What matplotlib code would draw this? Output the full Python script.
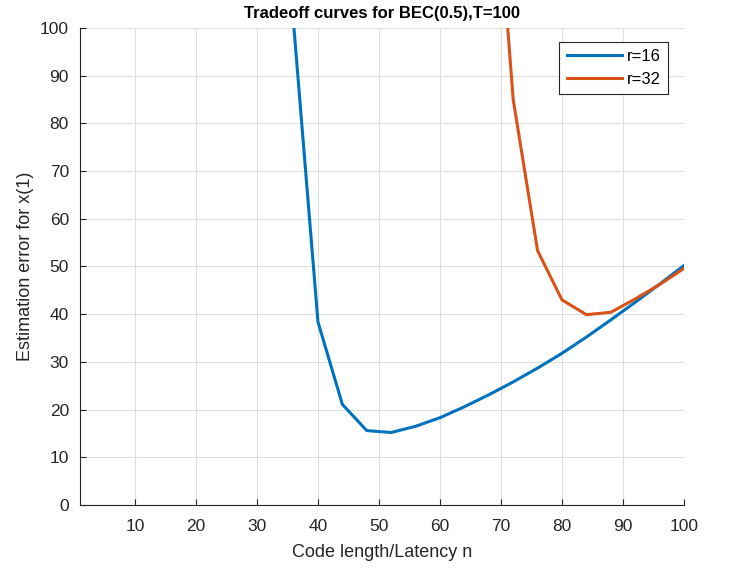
import matplotlib.pyplot as plt
import numpy as np

plt.rcParams["font.family"] = ["Liberation Sans", "DejaVu Sans"]

# code length n and estimation error
n_r16 = [36, 40, 44, 48, 52, 56, 60, 64, 68, 72, 76, 80, 84, 88, 92, 96, 100]
err_r16 = [101, 38.4, 21.1, 15.6, 15.2, 16.5, 18.3, 20.6, 23.1, 25.8, 28.7, 31.8, 35.2, 38.8, 42.5, 46.3, 50.2]

n_r32 = [68, 72, 76, 80, 84, 88, 92, 96, 100]
err_r32 = [152, 85.0, 53.3, 43.0, 39.9, 40.4, 43.2, 46.2, 49.6]

blue = (0, 0.447, 0.741)
orange = (0.85, 0.325, 0.098)

fig = plt.figure(figsize=(7.3, 5.7), dpi=100)
ax = fig.add_axes([0.1096, 0.114, 0.8274, 0.837])

ax.plot(n_r16, err_r16, color=blue, linewidth=2.2, label="r=16")
ax.plot(n_r32, err_r32, color=orange, linewidth=2.2, label="r=32")

ax.set_xlim(1, 100)
ax.set_ylim(0, 100)
ax.set_xticks(np.arange(10, 101, 10))
ax.set_yticks(np.arange(0, 101, 10))
ax.grid(True, color="#dfdfdf", linewidth=0.8)
ax.set_axisbelow(True)

for s in ["top", "right"]:
    ax.spines[s].set_visible(False)
for s in ["left", "bottom"]:
    ax.spines[s].set_color("#262626")
    ax.spines[s].set_linewidth(0.8)
ax.tick_params(direction="in", length=4, colors="#262626", labelsize=12.5)
ax.tick_params(axis="x", pad=10)
ax.tick_params(axis="y", pad=8)

ax.set_xlabel("Code length/Latency n", fontsize=13, color="#262626", labelpad=7)
ax.set_ylabel("Estimation error for x(1)", fontsize=13, color="#262626", labelpad=4)
ax.set_title("Tradeoff curves for BEC(0.5),T=100", fontsize=12, fontweight="bold", pad=7)

leg = ax.legend(loc="upper right", bbox_to_anchor=(0.974, 0.971), fontsize=12,
                fancybox=False, framealpha=1, edgecolor="#262626",
                handlelength=3.3, handletextpad=0.3, borderpad=0.45,
                labelspacing=0.45, borderaxespad=0)
leg.get_frame().set_linewidth(0.8)

fig.savefig("out.png", dpi=100)
